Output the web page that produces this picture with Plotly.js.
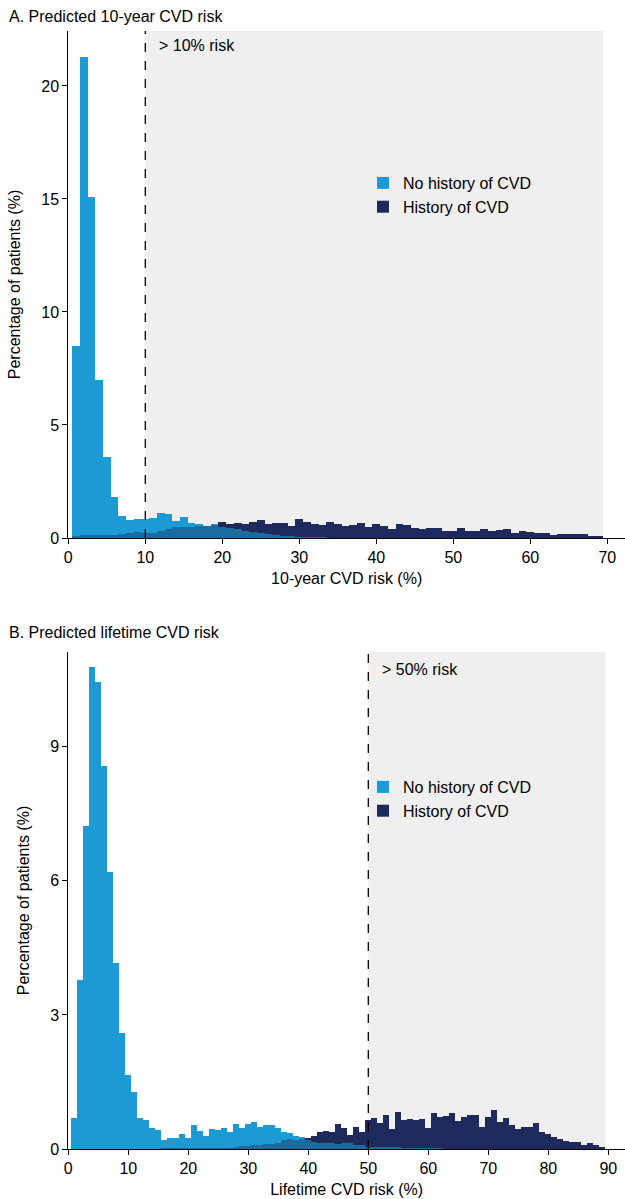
<!DOCTYPE html>
<html><head><meta charset="utf-8">
<script src="https://cdn.plot.ly/plotly-3.0.1.min.js"></script>
<style>html,body{margin:0;padding:0;background:#fff;} #chart{width:625px;height:1199px;}</style>
</head><body><div id="chart"></div>
<script>
// Panel A: predicted 10-year CVD risk, % of patients per 1-point bin (bins centred at 1..69)
const tenYearNoCVD = [8.5, 21.3, 15.1, 7.0, 3.57, 1.82, 0.97, 0.8, 0.82, 0.86,
  0.88, 1.11, 1.04, 0.76, 0.94, 0.67, 0.61, 0.53, 0.64, 0.5,
  0.45, 0.4, 0.33, 0.27, 0.2, 0.16, 0.13, 0.1, 0.08, 0.06,
  0.04, 0.03, 0.03, 0.02, 0.02, 0.02, 0.02, 0.01, 0.01, 0.01,
  0.01, 0.01, 0.01, 0.01, 0.01, 0.01, 0.01, 0.01, 0.01, 0.01,
  0, 0, 0, 0, 0, 0, 0, 0, 0, 0,
  0, 0, 0, 0, 0, 0, 0, 0, 0];
const tenYearCVD = [0.1, 0.12, 0.12, 0.15, 0.15, 0.15, 0.18, 0.2, 0.28, 0.22,
  0.23, 0.32, 0.42, 0.47, 0.47, 0.5, 0.55, 0.53, 0.57, 0.7,
  0.61, 0.67, 0.61, 0.73, 0.79, 0.64, 0.67, 0.67, 0.53, 0.83,
  0.73, 0.61, 0.57, 0.73, 0.61, 0.53, 0.57, 0.67, 0.5, 0.64,
  0.53, 0.42, 0.61, 0.56, 0.45, 0.38, 0.44, 0.44, 0.29, 0.32,
  0.44, 0.32, 0.29, 0.38, 0.32, 0.35, 0.38, 0.2, 0.32, 0.26,
  0.23, 0.2, 0.13, 0.16, 0.19, 0.16, 0.16, 0.09, 0.1];

// Panel B: predicted lifetime CVD risk (bins centred at 1..89)
const lifetimeNoCVD = [0.69, 3.78, 7.22, 10.78, 10.46, 8.56, 6.19, 4.17, 2.6, 1.66,
  1.27, 0.69, 0.64, 0.47, 0.42, 0.2, 0.25, 0.24, 0.33, 0.25,
  0.54, 0.4, 0.3, 0.44, 0.42, 0.48, 0.38, 0.56, 0.46, 0.56,
  0.61, 0.5, 0.53, 0.53, 0.47, 0.37, 0.35, 0.3, 0.27, 0.2,
  0.15, 0.14, 0.14, 0.13, 0.11, 0.13, 0.13, 0.09, 0.09, 0.05,
  0.05, 0.05, 0.04, 0.04, 0.04, 0.03, 0.02, 0.02, 0.02, 0.02,
  0.02, 0.02, 0.01, 0.01, 0.01, 0.01, 0.01, 0.01, 0.01, 0.01,
  0, 0, 0, 0, 0, 0, 0, 0, 0, 0,
  0, 0, 0, 0, 0, 0, 0, 0, 0];
const lifetimeCVD = [0.01, 0.01, 0.01, 0.01, 0.01, 0.01, 0.01, 0.01, 0.01, 0.01,
  0.01, 0.01, 0.01, 0.01, 0.01, 0.02, 0.02, 0.02, 0.02, 0.02,
  0.02, 0.02, 0.02, 0.03, 0.03, 0.03, 0.03, 0.05, 0.06, 0.07,
  0.08, 0.1, 0.11, 0.12, 0.14, 0.2, 0.22, 0.2, 0.22, 0.24,
  0.28, 0.39, 0.41, 0.39, 0.55, 0.47, 0.31, 0.5, 0.39, 0.65,
  0.69, 0.59, 0.76, 0.45, 0.82, 0.65, 0.68, 0.66, 0.67, 0.47,
  0.81, 0.72, 0.73, 0.8, 0.63, 0.72, 0.75, 0.75, 0.5, 0.72,
  0.87, 0.6, 0.69, 0.54, 0.45, 0.5, 0.5, 0.59, 0.37, 0.34,
  0.26, 0.22, 0.19, 0.16, 0.15, 0.09, 0.13, 0.09, 0.05];

const tenYearBins = tenYearNoCVD.map((_, i) => i + 1);
const lifetimeBins = lifetimeNoCVD.map((_, i) => i + 1);
const seriesNames = ['No history of CVD', 'History of CVD'];
const tenYearTicks = [0, 10, 20, 30, 40, 50, 60, 70];
const lifetimeTicks = [0, 10, 20, 30, 40, 50, 60, 70, 80, 90];
const tenYearYTicks = [0, 5, 10, 15, 20];
const lifetimeYTicks = [0, 3, 6, 9];

const LIGHT = '#1b9ad6', NAVY = '#1f2a5c', OVER = '#1b6b9e';
const W = 625, H = 1199;
const px = v => v / W, py = v => 1 - v / H;

function panel(bins, noH, hist, xa, ya, leg) {
  const overlap = noH.map((v, i) => Math.min(v, hist[i]));
  const base = {type: 'bar', x: bins, width: 1, xaxis: xa, yaxis: ya, hoverinfo: 'skip', legend: leg};
  return [
    Object.assign({}, base, {y: noH, name: seriesNames[0], marker: {color: LIGHT, line: {width: 0}}}),
    Object.assign({}, base, {y: hist, name: seriesNames[1], marker: {color: NAVY, line: {width: 0}}}),
    Object.assign({}, base, {y: overlap, showlegend: false, marker: {color: OVER, line: {width: 0}}})
  ];
}

const data = [].concat(
  panel(tenYearBins, tenYearNoCVD, tenYearCVD, 'x', 'y', 'legend'),
  panel(lifetimeBins, lifetimeNoCVD, lifetimeCVD, 'x2', 'y2', 'legend2')
);

const axBase = {ticks: 'outside', ticklen: 5, tickwidth: 1, tickcolor: '#000', showline: true,
  linecolor: '#000', linewidth: 1, showgrid: false, zeroline: false, fixedrange: true,
  tickfont: {size: 16, color: '#000'}};
const titleFont = {size: 16, color: '#000'};

const layout = {
  width: W, height: H,
  margin: {l: 0, r: 0, t: 0, b: 0},
  paper_bgcolor: '#fff', plot_bgcolor: 'rgba(0,0,0,0)',
  barmode: 'overlay', bargap: 0,
  font: {family: 'Liberation Sans, Arial, sans-serif', size: 16, color: '#000'},
  xaxis: Object.assign({}, axBase, {domain: [px(68.3), 1], range: [0, 72.3], tickvals: tenYearTicks,
    anchor: 'y', title: {text: '10-year CVD risk (%)', standoff: 7, font: titleFont}}),
  yaxis: Object.assign({}, axBase, {domain: [py(538), py(31)], range: [0, 22.43], tickvals: tenYearYTicks,
    anchor: 'x', title: {text: 'Percentage of patients (%)', standoff: 16, font: titleFont}}),
  xaxis2: Object.assign({}, axBase, {domain: [px(68.3), 1], range: [0, 92.78], tickvals: lifetimeTicks,
    anchor: 'y2', title: {text: 'Lifetime CVD risk (%)', standoff: 7, font: titleFont}}),
  yaxis2: Object.assign({}, axBase, {domain: [py(1149), py(652)], range: [0, 11.12], tickvals: lifetimeYTicks,
    anchor: 'x2', title: {text: 'Percentage of patients (%)', standoff: 16, font: titleFont}}),
  showlegend: true,
  legend: {x: px(363), xanchor: 'left', y: py(166), yanchor: 'top', bgcolor: 'rgba(0,0,0,0)',
    font: {size: 16}, itemwidth: 30, tracegroupgap: 0},
  legend2: {x: px(363), xanchor: 'left', y: py(770), yanchor: 'top', bgcolor: 'rgba(0,0,0,0)',
    font: {size: 16}, itemwidth: 30, tracegroupgap: 0},
  shapes: [
    {type: 'rect', xref: 'x', yref: 'y domain', x0: 10, x1: 69.5, y0: 0, y1: 1,
      fillcolor: '#efefef', line: {width: 0}, layer: 'below'},
    {type: 'line', xref: 'x', yref: 'y domain', x0: 10, x1: 10, y0: 0, y1: 1,
      line: {color: '#000', width: 1.3, dash: 'dash'}, layer: 'above'},
    {type: 'rect', xref: 'x2', yref: 'y2 domain', x0: 50, x1: 89.5, y0: 0, y1: 1,
      fillcolor: '#efefef', line: {width: 0}, layer: 'below'},
    {type: 'line', xref: 'x2', yref: 'y2 domain', x0: 50, x1: 50, y0: 0, y1: 1,
      line: {color: '#000', width: 1.3, dash: 'dash'}, layer: 'above'}
  ],
  annotations: [
    {text: 'A. Predicted 10-year CVD risk', xref: 'paper', yref: 'paper', x: px(7), y: py(16),
      xanchor: 'left', yanchor: 'middle', showarrow: false, font: {size: 16}},
    {text: 'B. Predicted lifetime CVD risk', xref: 'paper', yref: 'paper', x: px(7), y: py(632),
      xanchor: 'left', yanchor: 'middle', showarrow: false, font: {size: 16}},
    {text: '&gt; 10% risk', xref: 'x', yref: 'y domain', x: 11.5, y: 0.972,
      xanchor: 'left', yanchor: 'middle', showarrow: false, font: {size: 16}},
    {text: '&gt; 50% risk', xref: 'x2', yref: 'y2 domain', x: 52, y: 0.965,
      xanchor: 'left', yanchor: 'middle', showarrow: false, font: {size: 16}}
  ]
};

Plotly.newPlot('chart', data, layout, {staticPlot: true, displayModeBar: false});
</script></body></html>
